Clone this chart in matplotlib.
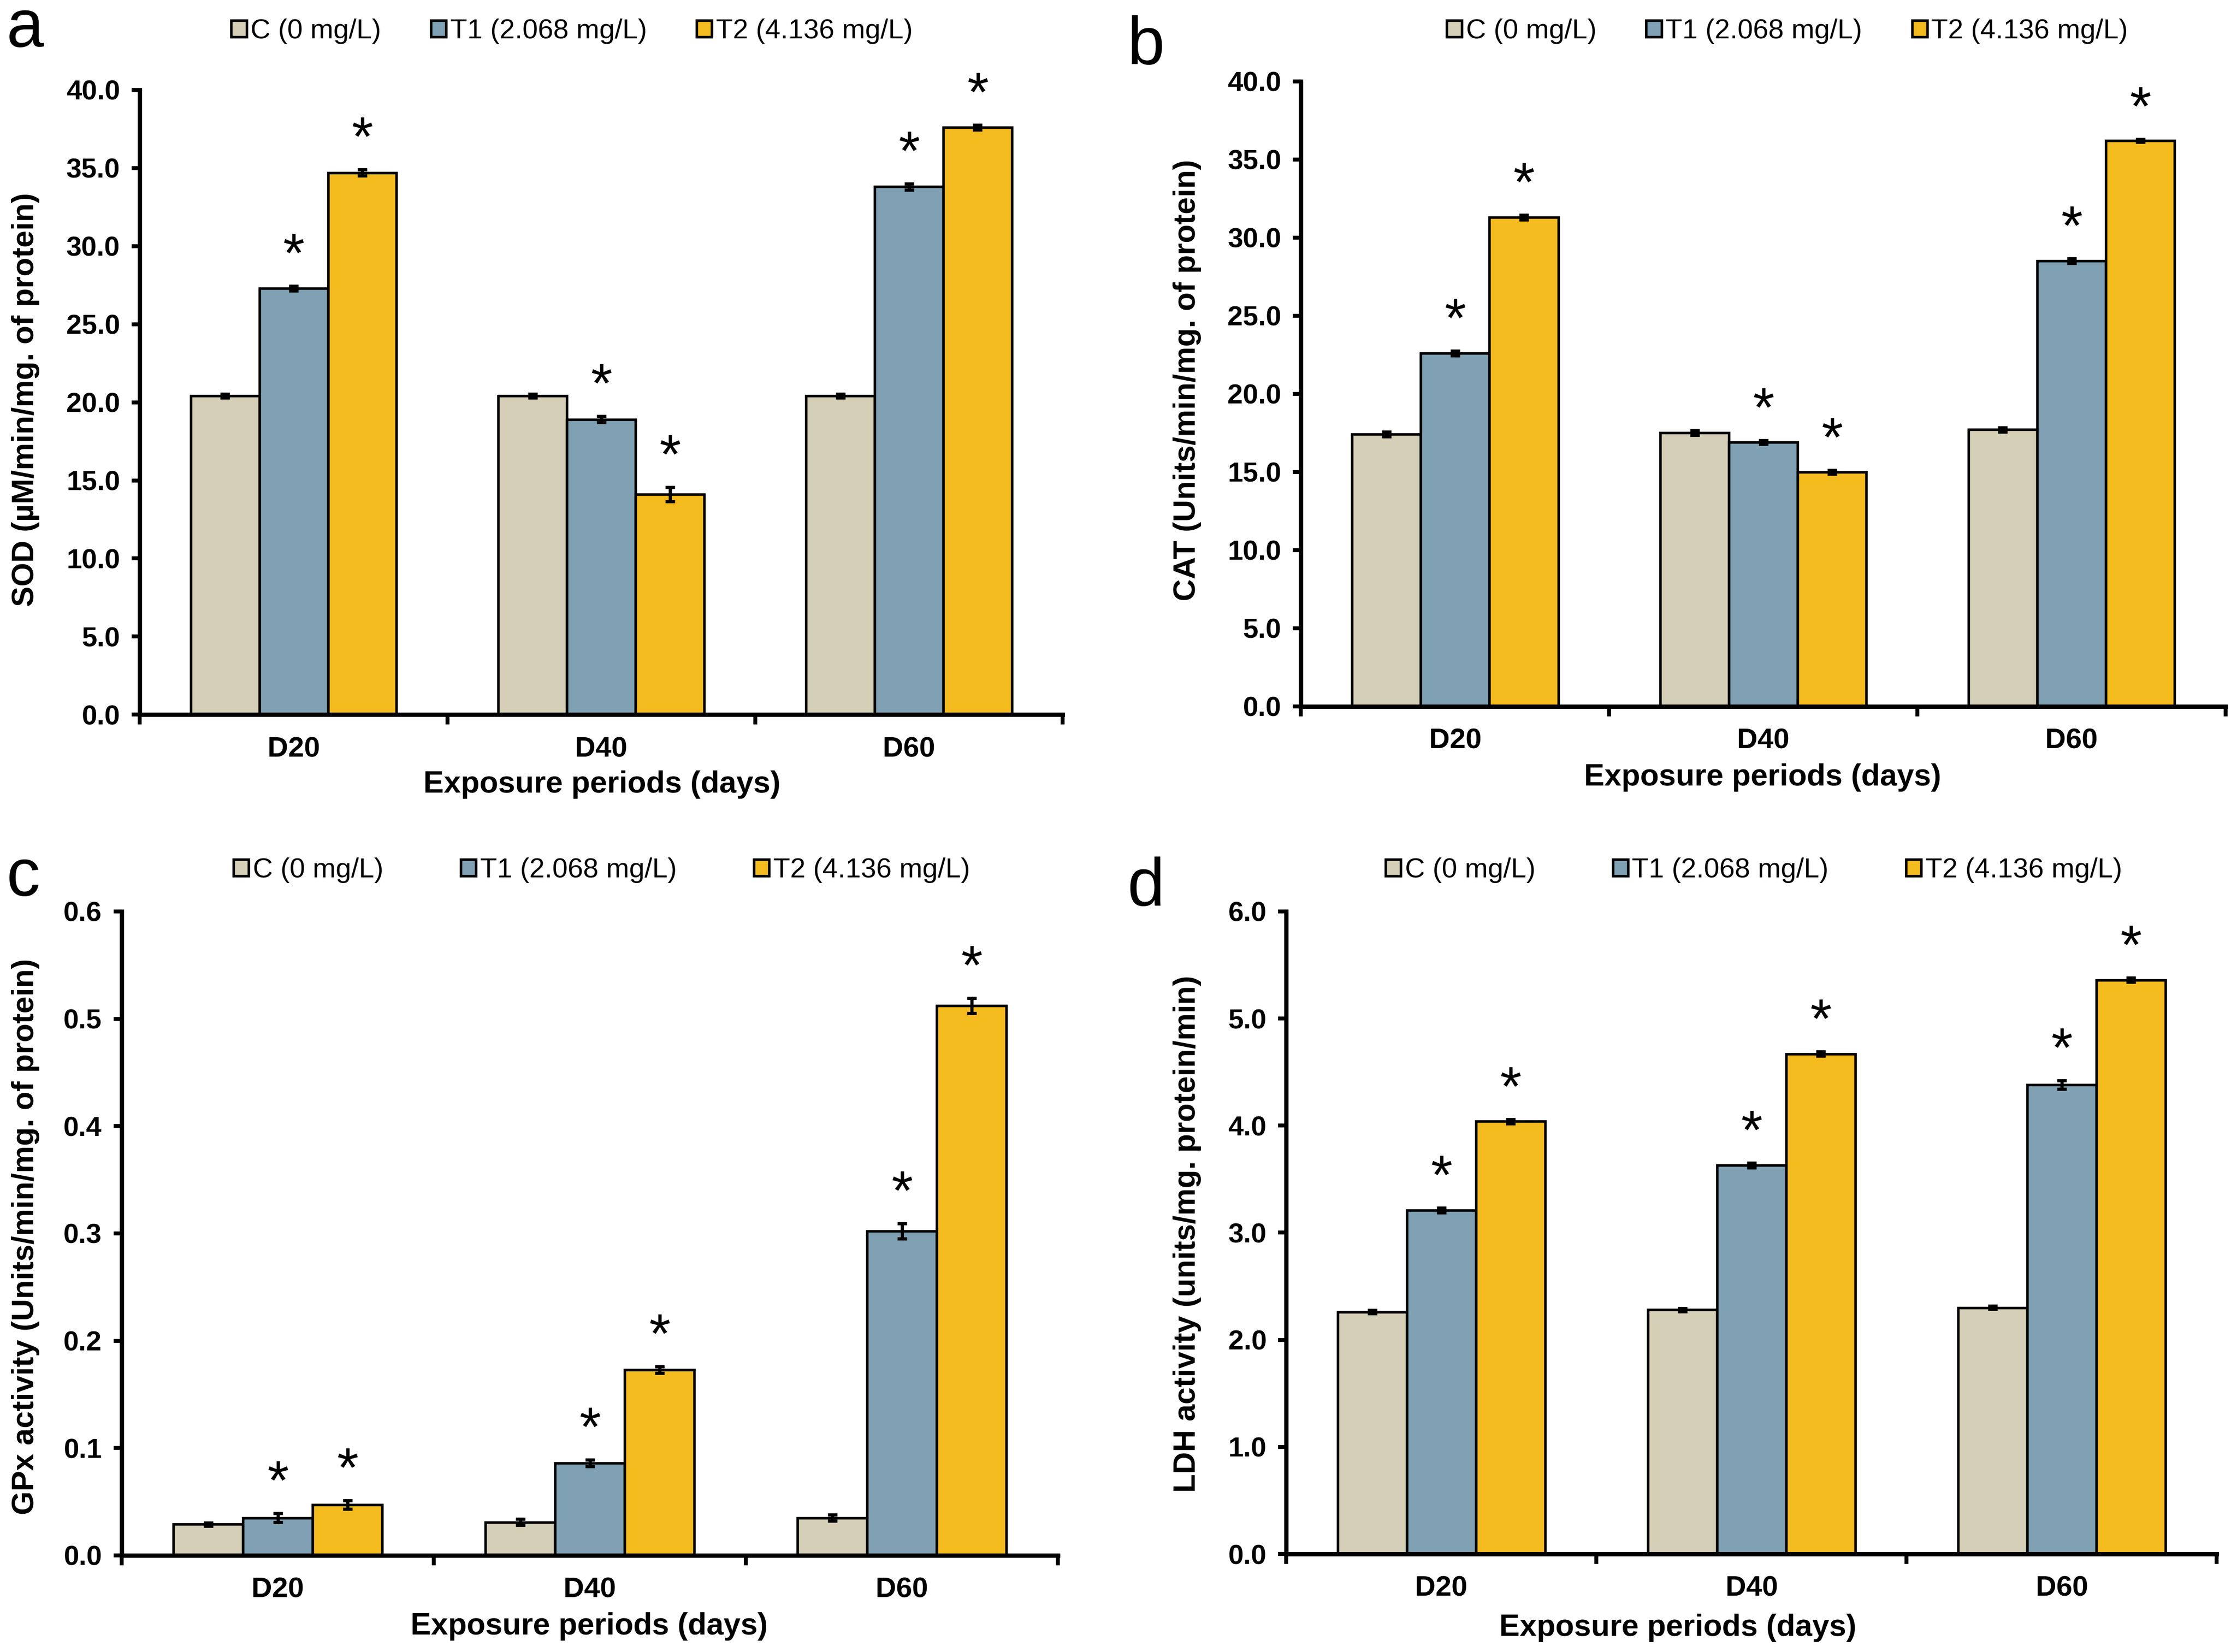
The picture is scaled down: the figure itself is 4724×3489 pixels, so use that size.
import matplotlib
matplotlib.use("Agg")
import matplotlib.pyplot as plt
import numpy as np

plt.rcParams['font.family'] = ['Liberation Sans', 'DejaVu Sans']

# ---- data ----
periods = ['D20', 'D40', 'D60']
groups = ['C (0 mg/L)', 'T1 (2.068 mg/L)', 'T2 (4.136 mg/L)']
colors = ['#D6CFB7', '#7FA1B3', '#F4BB1E']

sod_c = [20.4, 20.4, 20.4]
sod_t1 = [27.3, 18.9, 33.8]
sod_t2 = [34.7, 14.1, 37.6]
sod_c_err = [0.12, 0.12, 0.12]
sod_t1_err = [0.15, 0.2, 0.2]
sod_t2_err = [0.2, 0.45, 0.15]

cat_c = [17.4, 17.5, 17.7]
cat_t1 = [22.6, 16.9, 28.5]
cat_t2 = [31.3, 15.0, 36.2]
cat_c_err = [0.15, 0.15, 0.15]
cat_t1_err = [0.15, 0.12, 0.15]
cat_t2_err = [0.15, 0.12, 0.1]

gpx_c = [0.029, 0.031, 0.035]
gpx_t1 = [0.035, 0.086, 0.302]
gpx_t2 = [0.047, 0.173, 0.512]
gpx_c_err = [0.0015, 0.003, 0.003]
gpx_t1_err = [0.004, 0.003, 0.007]
gpx_t2_err = [0.004, 0.003, 0.007]

ldh_c = [2.26, 2.28, 2.30]
ldh_t1 = [3.21, 3.63, 4.38]
ldh_t2 = [4.04, 4.67, 5.36]
ldh_c_err = [0.015, 0.015, 0.015]
ldh_t1_err = [0.02, 0.02, 0.04]
ldh_t2_err = [0.02, 0.02, 0.02]

# which bars carry an asterisk (C, T1, T2)
marked = [False, True, True]


def draw_panel(fig, rect, values, errors, ymax, ystep, ylabel, ylabel_xy,
               xlabel_xy, legend_xy, colspace, letter, letter_xy):
    ax = fig.add_axes(rect)
    x = np.arange(len(periods))
    w = 0.223
    for i, (vals, errs) in enumerate(zip(values, errors)):
        pos = x + (i - 1) * w
        ax.bar(pos, vals, w, color=colors[i], edgecolor='black',
               linewidth=1.3, label=groups[i], zorder=2)
        ax.errorbar(pos, vals, yerr=errs, fmt='none', ecolor='black',
                    elinewidth=1.6, capsize=2.5, capthick=1.6, zorder=3)
        if marked[i]:
            for px, v, e in zip(pos, vals, errs):
                ax.annotate('*', (px, v + e), xytext=(0, 7),
                            textcoords='offset points', ha='center',
                            va='baseline', fontsize=28)

    ax.set_xlim(-0.5, 2.5)
    ax.set_ylim(0, ymax)
    yt = np.arange(0, ymax + ystep / 2, ystep)
    ax.set_yticks(yt)
    ax.set_yticklabels([f'{t:.1f}' for t in yt], fontsize=14, fontweight='bold')
    ax.set_xticks([-0.5, 0.5, 1.5, 2.5])
    ax.set_xticklabels([])
    ax.set_xticks(x, minor=True)
    ax.set_xticklabels(periods, minor=True, fontsize=14.5, fontweight='bold')
    ax.tick_params(axis='x', which='major', length=5, width=2, direction='out')
    ax.tick_params(axis='x', which='minor', length=0, pad=11)
    ax.tick_params(axis='y', length=4, width=2, direction='out', pad=6)
    for side in ['top', 'right']:
        ax.spines[side].set_visible(False)
    for side in ['left', 'bottom']:
        ax.spines[side].set_linewidth(2.2)

    fig.text(ylabel_xy[0], ylabel_xy[1], ylabel, rotation=90, ha='center',
             va='center', fontsize=15.5, fontweight='bold')
    fig.text(xlabel_xy[0], xlabel_xy[1], 'Exposure periods (days)',
             ha='center', va='center', fontsize=15.5, fontweight='bold')
    fig.text(letter_xy[0], letter_xy[1], letter, ha='left', va='baseline',
             fontsize=34)
    fig.legend(*ax.get_legend_handles_labels(), loc='center',
               bbox_to_anchor=legend_xy, ncol=3, frameon=False, fontsize=14,
               handlelength=0.55, handleheight=0.55, handletextpad=0.15,
               columnspacing=colspace, borderaxespad=0)
    return ax


fig = plt.figure(figsize=(4724 / 300, 3489 / 300), dpi=300)

draw_panel(fig, [0.0625, 0.5674, 0.4126, 0.3782],
           [sod_c, sod_t1, sod_t2], [sod_c_err, sod_t1_err, sod_t2_err],
           40, 5, 'SOD (µM/min/mg. of protein)', (0.0115, 0.758),
           (0.269, 0.525), (0.2557, 0.981), 1.8, 'a', (0.003, 0.9715))

draw_panel(fig, [0.5816, 0.5725, 0.4133, 0.3783],
           [cat_c, cat_t1, cat_t2], [cat_c_err, cat_t1_err, cat_t2_err],
           40, 5, 'CAT (Units/min/mg. of protein)', (0.5306, 0.770),
           (0.788, 0.5294), (0.799, 0.981), 1.8, 'b', (0.504, 0.961))

draw_panel(fig, [0.0544, 0.0585, 0.4186, 0.3898],
           [gpx_c, gpx_t1, gpx_t2], [gpx_c_err, gpx_t1_err, gpx_t2_err],
           0.6, 0.1, 'GPx activity (Units/min/mg. of protein)', (0.0115, 0.2513),
           (0.2634, 0.0155), (0.269, 0.4732), 2.8, 'c', (0.003, 0.4577))

draw_panel(fig, [0.575, 0.0593, 0.416, 0.389],
           [ldh_c, ldh_t1, ldh_t2], [ldh_c_err, ldh_t1_err, ldh_t2_err],
           6, 1, 'LDH activity (units/mg. protein/min)', (0.5306, 0.253),
           (0.75, 0.0147), (0.784, 0.4732), 2.8, 'd', (0.504, 0.4516))

fig.savefig('out.png', dpi=300)
